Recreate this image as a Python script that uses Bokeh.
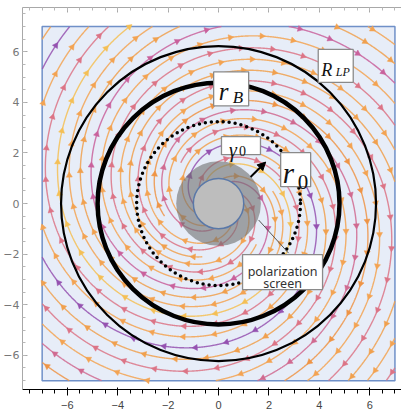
import numpy as np
from bokeh.plotting import figure
from bokeh.models import Range1d, LinearAxis, FixedTicker, Arrow, NormalHead, CustomJSTickFormatter
from bokeh.core.properties import value
from bokeh.embed import file_html
from bokeh.resources import INLINE

# ---------------- data ----------------
box_half = 7.0                      # stream region [-7, 7]^2
R_LP = 6.25                         # light-cylinder circle (thin)
r_B = 4.8                           # thick circle
r_0 = 3.25                          # dotted circle
screen_r = 1.68                     # polarization screen (gray disk)
core_r = 1.0                        # inner disk

# spiral pitch: tan(psi) = pitch_b + pitch_a / r   (outward, clockwise)
pitch_a = 0.6
pitch_b = 0.12
n_arms = 18
arm_start_r = [1.0, 1.0, 2.2] * 6
arm_colors = ["#F3A352", "#DC7486", "#F3A352", "#C9619C", "#F0A04E", "#F3A352",
              "#F4BF55", "#DC7486", "#F3A352", "#9552B0", "#F0A04E", "#DC7486",
              "#F3A352", "#D06A90", "#EE9446", "#F3A352", "#DC7486", "#F0A04E"]
arrow_spacing = 1.25

x_ticks = [-6, -4, -2, 0, 2, 4, 6]
y_ticks = [-6, -4, -2, 0, 2, 4, 6]

# label boxes: center (data), size (px)
box_x = [4.65, 0.50, 0.89, 3.06, 2.54]
box_y = [5.44, 4.53, 2.29, 1.34, -2.71]
box_w = [35, 35, 39, 30, 80]
box_h = [33, 34, 18, 34, 35]

# math label pieces: text, box index, dx, dy (px, baseline), size, italic
math_text = ["R", "LP", "r", "B", "γ", "0", "r", "0"]
math_box = [0, 0, 1, 1, 2, 2, 3, 3]
math_dx = [-14.5, 0.0, -12.5, 1.5, -12.0, -2.0, -13.0, 2.0]
math_dy = [4.5, 6.5, 2.5, 8.5, 4.0, 5.0, 3.0, 12.0]
math_size = ["18px", "12px", "25px", "17px", "20px", "14px", "29px", "21px"]
math_style = ["italic", "italic", "italic", "italic", "italic", "normal", "italic", "normal"]

screen_text = ["polarization", "screen"]
screen_dy = [-1.0, 11.0]

arrow_start = (1.27, 1.05)
arrow_end = (1.87, 1.64)
pointer_start = (2.78, -1.96)
pointer_end = (1.59, -0.65)

# ---------------- figure ----------------
p = figure(frame_width=379, frame_height=382, output_backend="svg", toolbar_location=None,
           x_range=Range1d(-7.78, 7.26), y_range=Range1d(-7.35, 7.75),
           min_border_left=14, min_border_right=0, min_border_top=7, min_border_bottom=0)
p.background_fill_color = "white"
p.border_fill_color = "white"
p.outline_line_color = None
p.grid.visible = False

minor = list(np.arange(-7.5, 7.6, 0.5))
p.xaxis.ticker = FixedTicker(ticks=x_ticks, minor_ticks=minor)
p.yaxis.ticker = FixedTicker(ticks=y_ticks, minor_ticks=minor)
top_axis = LinearAxis(ticker=FixedTicker(ticks=x_ticks, minor_ticks=minor),
                      formatter=CustomJSTickFormatter(code="return '';"),
                      major_label_standoff=0, major_label_text_font_size="1px")
p.add_layout(top_axis, "above")
for ax in [p.xaxis[0], p.yaxis[0], top_axis]:
    ax.axis_line_color = "#A8A8A8"
    ax.major_tick_line_color = "#A8A8A8"
    ax.minor_tick_line_color = "#B8B8B8"
    ax.major_tick_in = 5
    ax.major_tick_out = 0
    ax.minor_tick_in = 3
    ax.minor_tick_out = 0
    ax.major_label_text_color = "#777777"
    ax.major_label_text_font = "DejaVu Sans"
for ax in [p.xaxis[0], p.yaxis[0]]:
    ax.major_label_text_font_size = "11px"
    ax.major_label_standoff = 3

# stream region background
p.rect(x=0, y=0, width=2 * box_half, height=2 * box_half,
       fill_color="#E7EDF8", line_color="#6F90C8", line_width=1.5)

# streamlines
for k in range(n_arms):
    phi0 = 2 * np.pi * k / n_arms
    r = np.linspace(arm_start_r[k], 10.0, 3000)
    phi = phi0 - np.log((pitch_b * r + pitch_a) / (pitch_b * 1.0 + pitch_a)) / pitch_b
    x = r * np.cos(phi)
    y = r * np.sin(phi)
    inside = (np.abs(x) <= box_half) & (np.abs(y) <= box_half)
    xs = np.where(inside, x, np.nan)
    ys = np.where(inside, y, np.nan)
    col = arm_colors[k]
    p.line(xs, ys, line_color=col, line_width=1.4, line_alpha=0.85)
    s = np.concatenate([[0], np.cumsum(np.hypot(np.diff(x), np.diff(y)))])
    off = (0.37 * k) % arrow_spacing + 0.3
    targets = np.arange(off, s[-1], arrow_spacing)
    idx = np.clip(np.searchsorted(s, targets), 1, len(s) - 2)
    ax_, ay_, ang = [], [], []
    for i in idx:
        if not inside[i] or not inside[i + 1] or not inside[i - 1]:
            continue
        ax_.append(x[i]); ay_.append(y[i])
        ang.append(np.arctan2(y[i + 1] - y[i - 1], x[i + 1] - x[i - 1]) - np.pi / 2)
    p.scatter(ax_, ay_, marker="triangle", angle=ang, size=6,
              fill_color=col, line_color=col, line_width=0.5)

# polarization screen disk and core
p.circle(x=0, y=0, radius=screen_r, fill_color="#6E6E6E", fill_alpha=0.6, line_color=None)
p.circle(x=0, y=0, radius=core_r, fill_color="#BDBDBD", line_color="#5A78A8", line_width=1.5)

# characteristic circles
p.circle(x=0, y=0, radius=R_LP, fill_color=None, line_color="black", line_width=2.2)
p.circle(x=0, y=0, radius=r_B, fill_color=None, line_color="black", line_width=4.5)
p.circle(x=0, y=0, radius=r_0, fill_color=None, line_color="black", line_width=3.5,
         line_dash="0 6", line_cap="round")

# arrow and pointer
p.add_layout(Arrow(end=NormalHead(size=8, fill_color="black", line_color="black"),
                   x_start=arrow_start[0], y_start=arrow_start[1],
                   x_end=arrow_end[0], y_end=arrow_end[1],
                   line_color="black", line_width=2))
p.line([pointer_start[0], pointer_end[0]], [pointer_start[1], pointer_end[1]],
       line_color="#555555", line_width=1)

# label boxes
p.rect(x=box_x, y=box_y, width=box_w, height=box_h, width_units="screen", height_units="screen",
       fill_color="white", line_color="#8A8A8A", line_width=1.3)

for t, b, dx, dy, sz, st in zip(math_text, math_box, math_dx, math_dy, math_size, math_style):
    p.text(x=[box_x[b]], y=[box_y[b]], text=[t], x_offset=dx, y_offset=dy,
           text_font=value("Liberation Serif"), text_font_style=st, text_font_size=sz,
           text_color="#111111", text_align="left", text_baseline="alphabetic")

for t, dy in zip(screen_text, screen_dy):
    p.text(x=[box_x[4]], y=[box_y[4]], text=[t], x_offset=0, y_offset=dy,
           text_font=value("Noto Sans"), text_font_size="12.5px", text_color="#333333",
           text_align="center", text_baseline="alphabetic")

open("out.html", "w").write(file_html(p, INLINE))
